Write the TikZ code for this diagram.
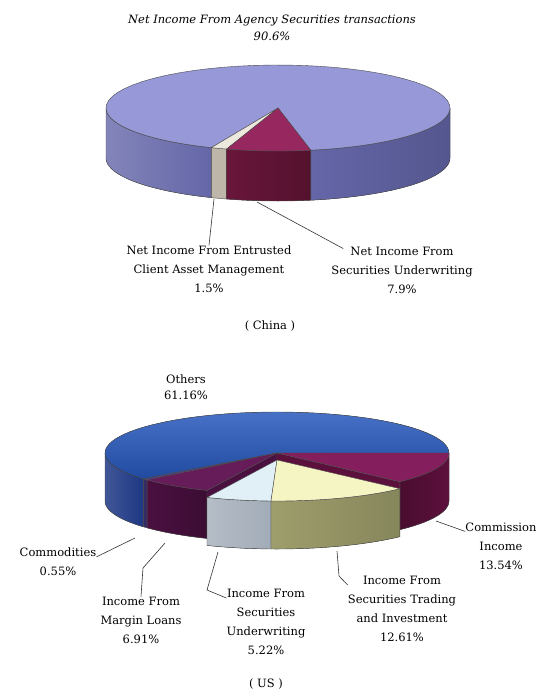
\documentclass[tikz,border=0pt]{standalone}
\usepackage{fontspec}
\setmainfont{DejaVu Serif}
\definecolor{agytop}{RGB}{150,152,215}
\definecolor{agyside}{RGB}{100,102,168}
\definecolor{enttop}{RGB}{236,232,222}
\definecolor{entside}{RGB}{190,182,168}
\definecolor{uwtop}{RGB}{150,40,95}
\definecolor{uwside}{RGB}{105,22,58}
\definecolor{othtop}{RGB}{38,88,188}
\definecolor{othside}{RGB}{30,56,132}
\definecolor{comtop}{RGB}{70,62,130}
\definecolor{comside}{RGB}{52,42,102}
\definecolor{mgntop}{RGB}{102,28,88}
\definecolor{mgnside}{RGB}{74,16,64}
\definecolor{uwstop}{RGB}{224,240,246}
\definecolor{uwsside}{RGB}{162,172,184}
\definecolor{trdtop}{RGB}{245,245,196}
\definecolor{trdside}{RGB}{158,158,108}
\definecolor{cmitop}{RGB}{132,30,92}
\definecolor{cmiside}{RGB}{92,16,60}
% slice pieces: centre x, centre y, from angle, to angle, style
\newcommand{\pietop}[5]{\fill[#5,draw=black!70] (#1,#2) -- plot[domain=#3:#4,samples=60] ({#1+\pieA*cos(\x)},{#2-\pieB*sin(\x)}) -- cycle;}
\newcommand{\pieside}[5]{\fill[#5,draw=black!70] plot[domain=#3:#4,samples=40] ({#1+\pieA*cos(\x)},{#2-\pieB*sin(\x)}) -- plot[domain=#4:#3,samples=40] ({#1+\pieA*cos(\x)},{#2+\pieH-\pieB*sin(\x)}) -- cycle;}
\newcommand{\piewall}[4]{\fill[#4,draw=black!70] (#1,#2) -- ({#1+\pieA*cos(#3)},{#2-\pieB*sin(#3)}) -- ({#1+\pieA*cos(#3)},{#2+\pieH-\pieB*sin(#3)}) -- (#1,{#2+\pieH}) -- cycle;}
\begin{document}
\begin{tikzpicture}[x=1pt,y=-1pt,line width=0.4pt]
\tikzstyle{lbl} = [align=center,font=\fontsize{11.5}{19}\selectfont,inner sep=0]
\tikzstyle{lead} = [draw, black!80, line width=0.6pt]
\useasboundingbox (0,0) rectangle (544,693);
\fill[white] (0,0) rectangle (544,693);

% China
\def\pieA{172}\def\pieB{43}\def\pieH{50}
\pieside{278}{108}{180}{247.2}{left color=agyside!80!white,right color=agyside}
\pieside{278}{108}{247.2}{252.6}{entside}
\pieside{278}{108}{252.6}{281}{left color=uwside,right color=uwside!80!black}
\pieside{278}{108}{281}{360}{left color=agyside,right color=agyside!85!black}
\pietop{278}{108}{281}{607.2}{agytop}
\pietop{278}{108}{247.2}{252.6}{enttop}
\pietop{278}{108}{252.6}{281}{uwtop}

\node [lbl,font=\fontsize{11.5}{17}\selectfont\itshape] (agylbl) at (272,28) {Net Income From Agency Securities transactions\\90.6\%};
\node [lbl] (entlbl) at (209,269) {Net Income From Entrusted\\Client Asset Management\\1.5\%};
\node [lbl] (uwlbl) at (402,270) {Net Income From\\Securities Underwriting\\7.9\%};
\coordinate (ent) at (214,199);
\coordinate (uw) at (257,202);
\draw [lead] (ent) -- (entlbl.north);
\draw [lead] (uw) -- ([xshift=12pt,yshift=-2pt]uwlbl.north west);
\node [lbl] (cnlbl) at (270,326) {( China )};

% US
\def\pieA{172}\def\pieB{41}\def\pieH{48}
\pieside{277}{453}{180}{219}{left color=othside!85!white,right color=othside}
\pieside{277}{453}{219}{221}{comside}
\pieside{277}{453}{221}{246}{left color=mgnside,right color=mgnside!80!black}
\pieside{277}{453}{315.6}{360}{left color=cmiside!80!black,right color=cmiside}
\piewall{277}{453}{246}{mgnside}
\piewall{277}{453}{315.6}{cmiside}
\pietop{277}{453}{360}{579}{top color=othtop!85!white,bottom color=othtop!85!black}
\pietop{277}{453}{219}{221}{comtop}
\pietop{277}{453}{221}{246}{mgntop}
\pietop{277}{453}{315.6}{360}{cmitop}
% pulled out slices
\pieside{277}{460}{246}{268}{left color=uwsside!80!white,right color=uwsside}
\pieside{277}{460}{268}{315.6}{left color=trdside,right color=trdside!85!black}
\pietop{277}{460}{246}{268}{uwstop}
\pietop{277}{460}{268}{315.6}{trdtop}

\node [lbl,font=\fontsize{11.5}{16}\selectfont] (othlbl) at (186,387) {Others\\61.16\%};
\node [lbl] (comlbl) at (58,562) {Commodities\\0.55\%};
\node [lbl] (mgnlbl) at (141,620) {Income From\\Margin Loans\\6.91\%};
\node [lbl] (uwslbl) at (266,622) {Income From\\Securities\\Underwriting\\5.22\%};
\node [lbl] (trdlbl) at (402,609) {Income From\\Securities Trading\\and Investment\\12.61\%};
\node [lbl] (cmilbl) at (501,546) {Commission\\Income\\13.54\%};
\coordinate (com) at (135,538);
\coordinate (mgn) at (165,543);
\coordinate (mgnk) at (143,568);
\coordinate (uws) at (218,552);
\coordinate (uwsk) at (207,590);
\coordinate (trd) at (337,551);
\coordinate (trdk) at (339,576);
\coordinate (cmi) at (436,521);
\draw [lead] (com) -- ([yshift=-9pt]comlbl.north east);
\draw [lead] (mgn) -- (mgnk) -- (mgnlbl.north);
\draw [lead] (uws) -- (uwsk) -- ([yshift=-9pt]uwslbl.north west);
\draw [lead] (trd) -- (trdk) -- ([yshift=-9pt]trdlbl.north west);
\draw [lead] (cmi) -- ([yshift=-9pt]cmilbl.north west);
\node [lbl] (uslbl) at (266,684) {( US )};
\end{tikzpicture}
\end{document}
